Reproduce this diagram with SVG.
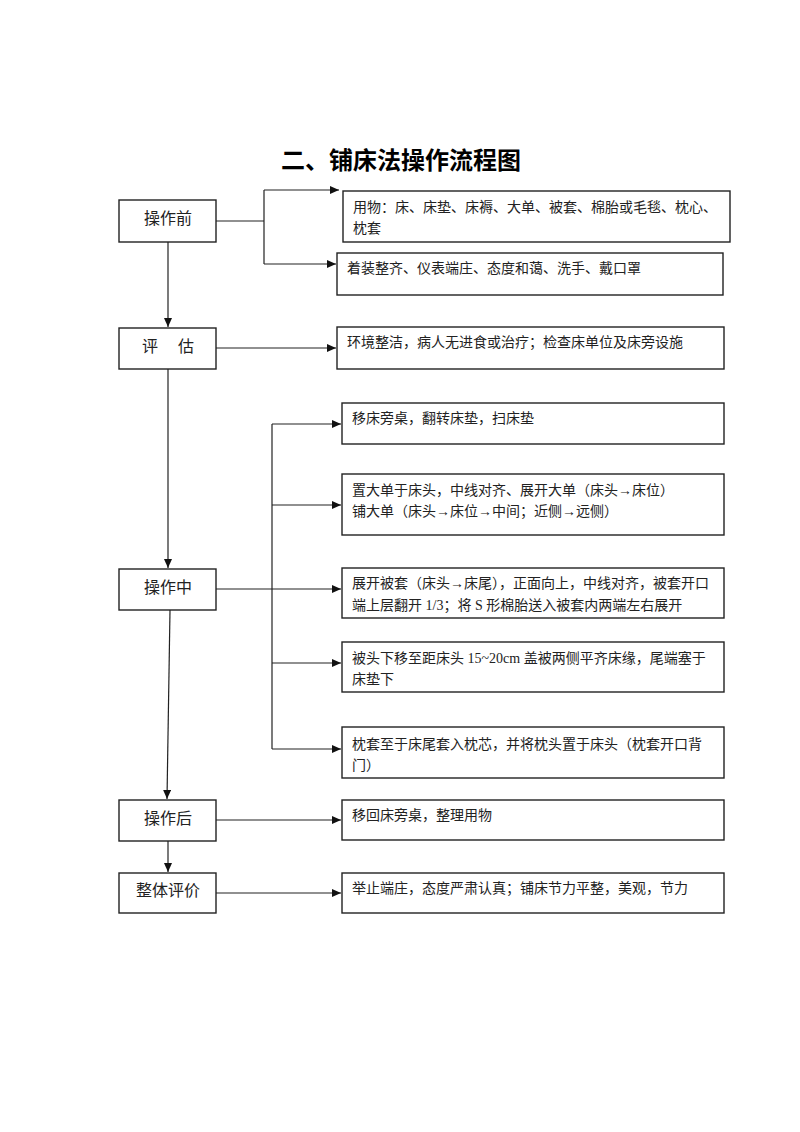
<svg xmlns="http://www.w3.org/2000/svg" width="800" height="1132" viewBox="0 0 800 1132">
<style>
.box{fill:#fff;stroke:#222;stroke-width:1.4}
.ln{fill:none;stroke:#222;stroke-width:1.2}
.t{font-family:"Liberation Serif","Noto Sans CJK SC",serif;font-size:14px;fill:#222}
.lt{font-family:"Liberation Serif","Noto Sans CJK SC",serif;font-size:16px;fill:#222;text-anchor:middle}
.title{font-family:"Noto Sans CJK SC",sans-serif;font-size:24px;font-weight:bold;fill:#000;text-anchor:middle}
</style>
<defs>
<marker id="arr" markerWidth="9" markerHeight="8" refX="9" refY="4" orient="auto" markerUnits="userSpaceOnUse">
<path d="M0,0 L9,4 L0,8 Z" fill="#111"/>
</marker>
</defs>
<rect width="800" height="1132" fill="#fff"/>
<text class="title" x="401" y="169">二、铺床法操作流程图</text>

<g id="connectors">
<path class="ln" d="M216,221 H264 M264,190 V264"/>
<path class="ln" d="M264,190 H339" marker-end="url(#arr)"/>
<path class="ln" d="M264,264 H336" marker-end="url(#arr)"/>
<path class="ln" d="M168,242 V327" marker-end="url(#arr)"/>
<path class="ln" d="M216,348 H336" marker-end="url(#arr)"/>
<path class="ln" d="M168,369 V568" marker-end="url(#arr)"/>
<path class="ln" d="M216,589 H341" marker-end="url(#arr)"/>
<path class="ln" d="M272,424 V749"/>
<path class="ln" d="M272,424 H341" marker-end="url(#arr)"/>
<path class="ln" d="M272,505 H341" marker-end="url(#arr)"/>
<path class="ln" d="M272,663 H341" marker-end="url(#arr)"/>
<path class="ln" d="M272,749 H341" marker-end="url(#arr)"/>
<path class="ln" d="M170,610 L167,799" marker-end="url(#arr)"/>
<path class="ln" d="M216,820 H341" marker-end="url(#arr)"/>
<path class="ln" d="M168,841 V872" marker-end="url(#arr)"/>
<path class="ln" d="M216,893 H341" marker-end="url(#arr)"/>
</g>

<g id="n_before"><rect class="box" x="119" y="200" width="97" height="42"/><text class="lt" x="168" y="224">操作前</text></g>
<g id="n_assess"><rect class="box" x="119" y="328" width="97" height="41"/><text class="lt" x="168" y="352">评　 估</text></g>
<g id="n_during"><rect class="box" x="119" y="569" width="97" height="41"/><text class="lt" x="168" y="593">操作中</text></g>
<g id="n_after"><rect class="box" x="119" y="800" width="97" height="41"/><text class="lt" x="168" y="824">操作后</text></g>
<g id="n_eval"><rect class="box" x="119" y="873" width="97" height="40"/><text class="lt" x="168" y="896">整体评价</text></g>

<g id="b1"><rect class="box" x="343" y="191" width="387" height="51"/>
<text class="t" x="353" y="212">用物：床、床垫、床褥、大单、被套、棉胎或毛毯、枕心、</text>
<text class="t" x="353" y="233">枕套</text></g>
<g id="b2"><rect class="box" x="337" y="253" width="386" height="42"/>
<text class="t" x="347" y="273">着装整齐、仪表端庄、态度和蔼、洗手、戴口罩</text></g>
<g id="b3"><rect class="box" x="337" y="327" width="387" height="42"/>
<text class="t" x="347" y="347">环境整洁，病人无进食或治疗；检查床单位及床旁设施</text></g>
<g id="b4"><rect class="box" x="342" y="403" width="382" height="41"/>
<text class="t" x="352" y="423">移床旁桌，翻转床垫，扫床垫</text></g>
<g id="b5"><rect class="box" x="342" y="474" width="382" height="61"/>
<text class="t" x="352" y="495">置大单于床头，中线对齐、展开大单（床头→床位）</text>
<text class="t" x="352" y="516">铺大单（床头→床位→中间；近侧→远侧）</text></g>
<g id="b6"><rect class="box" x="342" y="568" width="382" height="50"/>
<text class="t" x="352" y="588">展开被套（床头→床尾），正面向上，中线对齐，被套开口</text>
<text class="t" x="352" y="610">端上层翻开 1/3；将 S 形棉胎送入被套内两端左右展开</text></g>
<g id="b7"><rect class="box" x="342" y="642" width="382" height="50"/>
<text class="t" x="352" y="663">被头下移至距床头 15~20cm 盖被两侧平齐床缘，尾端塞于</text>
<text class="t" x="352" y="684">床垫下</text></g>
<g id="b8"><rect class="box" x="342" y="727" width="382" height="51"/>
<text class="t" x="352" y="749">枕套至于床尾套入枕芯，并将枕头置于床头（枕套开口背</text>
<text class="t" x="352" y="770">门）</text></g>
<g id="b9"><rect class="box" x="342" y="800" width="382" height="40"/>
<text class="t" x="352" y="820">移回床旁桌，整理用物</text></g>
<g id="b10"><rect class="box" x="342" y="873" width="382" height="40"/>
<text class="t" x="352" y="893">举止端庄，态度严肃认真；铺床节力平整，美观，节力</text></g>
</svg>
